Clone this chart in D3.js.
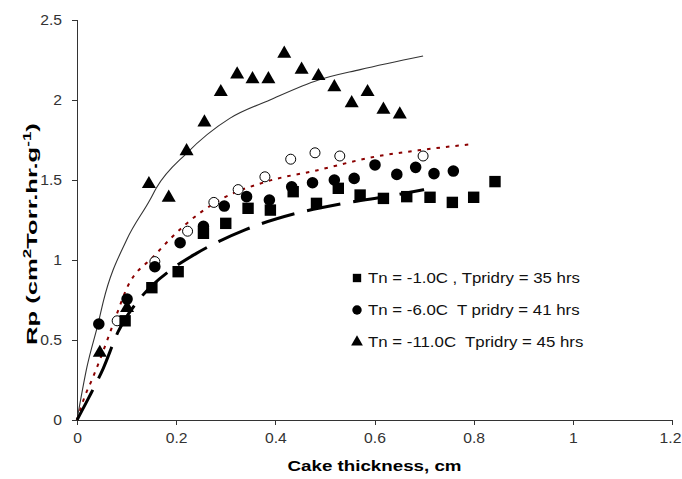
<!DOCTYPE html>
<html><head><meta charset="utf-8">
<script src="https://cdn.jsdelivr.net/npm/d3@7"></script>
<style>body{margin:0;background:#fff}svg{display:block}</style>
</head><body><svg id="c" width="682" height="479"></svg>
<script>
// ---- data ----
const xTicks = [0, 0.2, 0.4, 0.6, 0.8, 1, 1.2];
const xTickLabels = ["0", "0.2", "0.4", "0.6", "0.8", "1", "1.2"];
const yTicks = [0, 0.5, 1, 1.5, 2, 2.5];
const yTickLabels = ["0", "0.5", "1", "1.5", "2", "2.5"];

const squares = [[0.097,0.62],[0.151,0.827],[0.204,0.927],[0.255,1.167],[0.30,1.229],[0.345,1.323],[0.39,1.312],[0.436,1.427],[0.483,1.354],[0.527,1.448],[0.571,1.406],[0.618,1.385],[0.665,1.396],[0.712,1.392],[0.757,1.36],[0.80,1.392],[0.843,1.49]];
const circles = [[0.044,0.60],[0.101,0.756],[0.157,0.958],[0.208,1.108],[0.255,1.21],[0.297,1.337],[0.342,1.396],[0.388,1.375],[0.433,1.458],[0.475,1.483],[0.519,1.50],[0.559,1.51],[0.601,1.594],[0.645,1.535],[0.683,1.579],[0.72,1.54],[0.759,1.556]];
const triangles = [[0.046,0.42],[0.101,0.70],[0.145,1.475],[0.185,1.39],[0.221,1.68],[0.257,1.86],[0.29,2.05],[0.323,2.16],[0.354,2.13],[0.386,2.13],[0.418,2.29],[0.453,2.19],[0.487,2.15],[0.519,2.08],[0.554,1.98],[0.586,2.05],[0.618,1.94],[0.651,1.91]];
const openCircles = [[0.081,0.62],[0.157,0.99],[0.223,1.18],[0.276,1.36],[0.325,1.44],[0.379,1.52],[0.431,1.63],[0.48,1.67],[0.53,1.65],[0.698,1.65]];

const fitSolid = [[0,0],[0.02,0.33],[0.044,0.62],[0.053,0.74],[0.1,1.125],[0.147,1.375],[0.16,1.45],[0.221,1.667],[0.308,1.885],[0.389,2.0],[0.487,2.125],[0.571,2.19],[0.698,2.275]];
const fitDashed = [[0,0],[0.023,0.135],[0.053,0.323],[0.083,0.552],[0.13,0.77],[0.19,0.94],[0.24,1.04],[0.34,1.19],[0.44,1.29],[0.54,1.355],[0.64,1.405],[0.70,1.44]];
const fitDotted = [[0,0],[0.016,0.15],[0.03,0.25],[0.046,0.375],[0.067,0.55],[0.08,0.66],[0.1,0.82],[0.157,1.03],[0.218,1.22],[0.288,1.375],[0.382,1.49],[0.483,1.56],[0.6,1.645],[0.7,1.69],[0.8,1.725]];

const legendLabels = ["Tn = -1.0C , Tpridry = 35 hrs", "Tn = -6.0C  T pridry = 41 hrs", "Tn = -11.0C  Tpridry = 45 hrs"];
const xTitle = "Cake thickness, cm";

// ---- drawing ----
const svg = d3.select("#c");
const L = 77, R = 672, T = 20, B = 420;
const x = d3.scaleLinear().domain([0, 1.2]).range([L, R]);
const y = d3.scaleLinear().domain([0, 2.5]).range([B, T]);
const font = "'Liberation Sans', Arial, sans-serif";

function widen(sel, f) {
  sel.each(function () {
    const w = this.getComputedTextLength();
    d3.select(this).attr("textLength", w * f).attr("lengthAdjust", "spacingAndGlyphs");
  });
}

const xAxis = svg.append("g").attr("transform", `translate(0,${B})`)
  .call(d3.axisBottom(x).tickValues(xTicks).tickFormat((d,i)=>xTickLabels[i]).tickSizeOuter(0).tickSize(5).tickPadding(8));
const yAxis = svg.append("g").attr("transform", `translate(${L},0)`)
  .call(d3.axisLeft(y).tickValues(yTicks).tickFormat((d,i)=>yTickLabels[i]).tickSizeOuter(0).tickSize(5).tickPadding(10));
[xAxis, yAxis].forEach(a => {
  a.selectAll("path,line").attr("stroke", "#333").attr("stroke-width", 1).attr("shape-rendering","crispEdges");
  a.selectAll("text").attr("fill", "#333").style("font-family", font).style("font-size", "14px");
  widen(a.selectAll("text"), 1.12);
});
xAxis.selectAll(".tick:last-of-type text").attr("dx", "-2");

const line = d3.line().x(d => x(d[0])).y(d => y(d[1])).curve(d3.curveMonotoneX);
svg.append("path").attr("d", line(fitSolid)).attr("fill","none").attr("stroke","#333").attr("stroke-width",1.1);
svg.append("path").attr("d", line(fitDotted)).attr("fill","none").attr("stroke","#8b0000").attr("stroke-width",2).attr("stroke-dasharray","3.5,6");
svg.append("path").attr("d", line(fitDashed)).attr("fill","none").attr("stroke","#000").attr("stroke-width",3).attr("stroke-dasharray","34,13");

svg.append("g").selectAll("circle").data(openCircles).join("circle")
  .attr("cx", d=>x(d[0])).attr("cy", d=>y(d[1])).attr("r", 5).attr("fill","#fff").attr("stroke","#000").attr("stroke-width",1);
const sq = d3.symbol().type(d3.symbolSquare).size(130);
const ci = d3.symbol().type(d3.symbolCircle).size(105);
const tr = d3.symbol().type(d3.symbolTriangle).size(85);
svg.append("g").selectAll("path").data(squares).join("path")
  .attr("d", sq).attr("transform", d=>`translate(${x(d[0])},${y(d[1])})`).attr("fill","#000");
svg.append("g").selectAll("path").data(circles).join("path")
  .attr("d", ci).attr("transform", d=>`translate(${x(d[0])},${y(d[1])})`).attr("fill","#000");
svg.append("g").selectAll("path").data(triangles).join("path")
  .attr("d", tr).attr("transform", d=>`translate(${x(d[0])},${y(d[1])})`).attr("fill","#000");

// legend
const lg = svg.append("g");
const legendSyms = [d3.symbol().type(d3.symbolSquare).size(70), d3.symbol().type(d3.symbolCircle).size(70), d3.symbol().type(d3.symbolTriangle).size(60)];
legendLabels.forEach((t, i) => {
  const yy = 278 + i * 32;
  lg.append("path").attr("d", legendSyms[i]).attr("transform", `translate(357,${yy})`).attr("fill","#000");
  const tx = lg.append("text").attr("x", 368).attr("y", yy).attr("dy","0.36em").text(t)
    .style("font-family", font).style("font-size","14.5px").attr("fill","#111").style("white-space","pre");
  widen(tx, 1.16);
});

// axis titles
const xt = svg.append("text").attr("x", (L+R)/2).attr("y", 471).attr("text-anchor","middle").text(xTitle)
  .style("font-family", font).style("font-size","15.5px").style("font-weight","bold");
widen(xt, 174 / xt.node().getComputedTextLength());
const yt = svg.append("text").attr("text-anchor","middle")
  .style("font-family", font).style("font-size","15px").style("font-weight","bold");
yt.append("tspan").text("Rp (cm");
yt.append("tspan").text("2").attr("dy","-6").style("font-size","10px");
yt.append("tspan").text("Torr.hr.g").attr("dy","6");
yt.append("tspan").text("-1").attr("dy","-6").style("font-size","10px");
yt.append("tspan").text(")").attr("dy","6");
const yw = yt.node().getComputedTextLength();
yt.attr("transform", `translate(37,234) rotate(-90) scale(${222 / yw},1)`);
</script></body></html>
